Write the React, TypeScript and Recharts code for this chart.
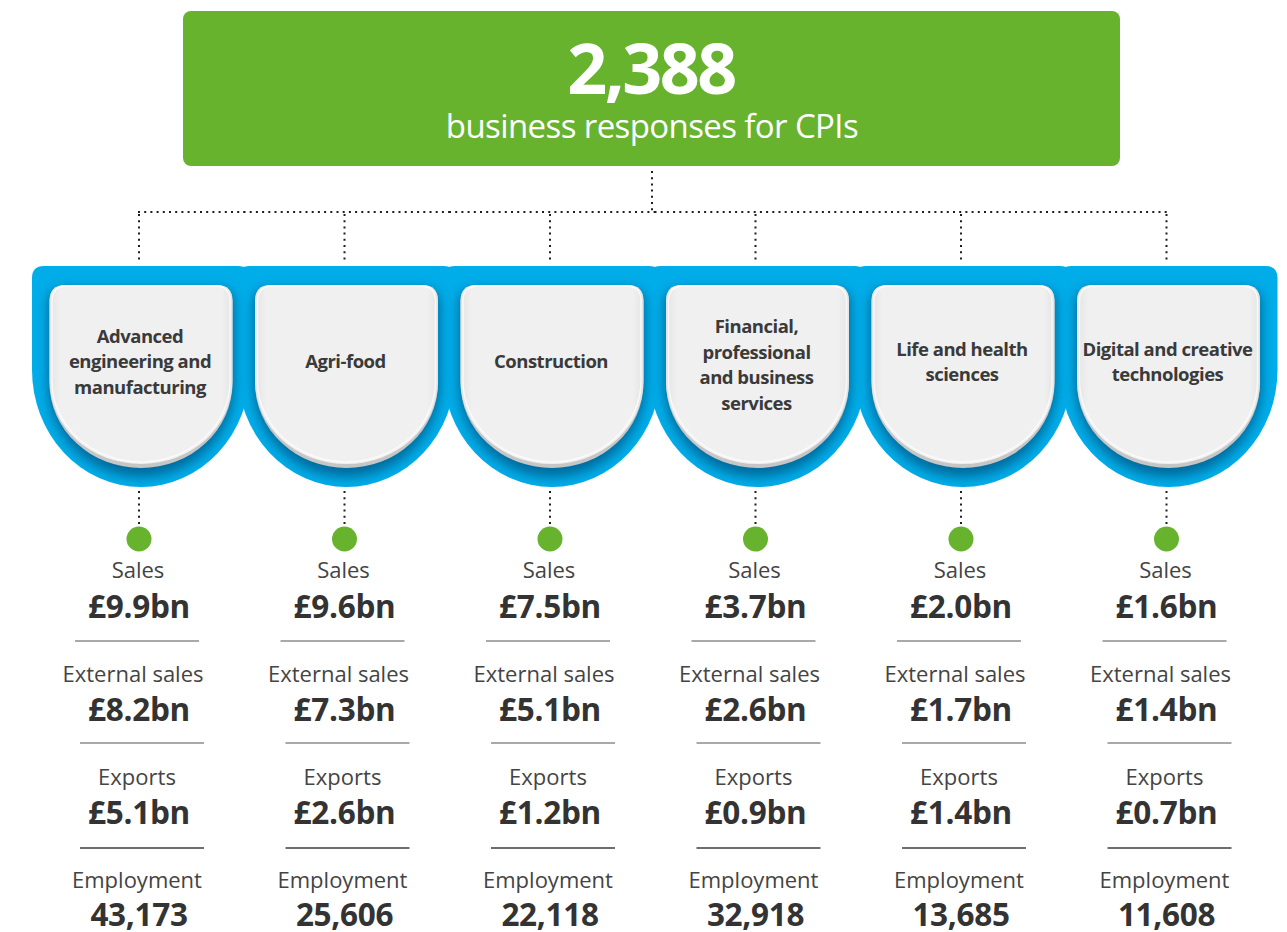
import React from "react";
import { ComposedChart, Bar, XAxis, YAxis } from "recharts";

// ---------- data ----------
const totalResponses = 2388;
const headline = "business responses for CPIs";
const sectors = [
  "Advanced engineering and manufacturing",
  "Agri-food",
  "Construction",
  "Financial, professional and business services",
  "Life and health sciences",
  "Digital and creative technologies",
];
const sectorLines = [
  ["Advanced", "engineering and", "manufacturing"],
  ["Agri-food"],
  ["Construction"],
  ["Financial,", "professional", "and business", "services"],
  ["Life and health", "sciences"],
  ["Digital and creative", "technologies"],
];
const sales = [9.9, 9.6, 7.5, 3.7, 2.0, 1.6];
const externalSales = [8.2, 7.3, 5.1, 2.6, 1.7, 1.4];
const exportsBn = [5.1, 2.6, 1.2, 0.9, 1.4, 0.7];
const employment = [43173, 25606, 22118, 32918, 13685, 11608];
const rowLabels = ["Sales", "External sales", "Exports", "Employment"];

const data = sectors.map((s, i) => ({
  sector: s,
  lines: sectorLines[i],
  sales: sales[i],
  externalSales: externalSales[i],
  exports: exportsBn[i],
  employment: employment[i],
}));

// ---------- styles ----------
const W = 1287;
const H = 932;
const FONT = "'Open Sans', 'Noto Sans', sans-serif";
const GREEN = "#67B32E";
const BLUE = "#00ADE9";
const DOT = "#1e1e1e";
const N = sectors.length;

const bn = (v: number) => `£${v.toFixed(1)}bn`;

function roundedU(cx: number, hw: number, top: number, sideEnd: number, bottom: number, r: number) {
  const l = cx - hw;
  const rt = cx + hw;
  return `M ${l} ${top + r} Q ${l} ${top} ${l + r} ${top} L ${rt - r} ${top} Q ${rt} ${top} ${rt} ${top + r} L ${rt} ${sideEnd} A ${hw} ${bottom - sideEnd} 0 0 1 ${l} ${sideEnd} Z`;
}

const BackingShape = (props: any) => {
  const { x, width, index } = props;
  const cx = x + width / 2;
  const x0 = index === 0 ? cx - 3 : x;
  const x1 = index === N - 1 ? cx + 2 : x + width;
  return (
    <g>
      <line x1={x0} y1={212} x2={x1} y2={212} stroke={DOT} strokeWidth={2} strokeDasharray="2 4.2" />
      <line x1={cx - 2} y1={214} x2={cx - 2} y2={262} stroke={DOT} strokeWidth={2} strokeDasharray="2 4.2" />
      <path d={roundedU(cx, 109, 266, 370, 487, 12)} fill={BLUE} />
    </g>
  );
};

const CardShape = (props: any) => {
  const { x, width, index, payload } = props;
  const cx = x + width / 2;
  const lines: string[] = payload.lines;
  const lh = 25.5;
  const mid = lines.length === 4 ? 365 : 362;
  const first = mid - ((lines.length - 1) * lh) / 2;
  return (
    <g>
      {index === 0 && (
        <defs>
          <filter id="cardShadow" x="-30%" y="-30%" width="160%" height="160%">
            <feGaussianBlur stdDeviation="6" />
          </filter>
          <linearGradient id="cardFace" x1="0" y1="0" x2="1" y2="0">
            <stop offset="0" stopColor="#e4e4e4" />
            <stop offset="0.06" stopColor="#f0f0f0" />
            <stop offset="0.94" stopColor="#f0f0f0" />
            <stop offset="1" stopColor="#e4e4e4" />
          </linearGradient>
        </defs>
      )}
      <path d={roundedU(cx, 93, 289, 385, 477, 16)} fill="#005a88" opacity={0.8} filter="url(#cardShadow)" />
      <path d={roundedU(cx, 91.5, 285, 383, 468, 16)} fill="#c6c6c6" />
      <path d={roundedU(cx, 91.5, 285, 381, 464, 16)} fill="url(#cardFace)" />
      <path d={roundedU(cx, 89, 286, 381, 462, 15)} fill="none" stroke="#ffffff" strokeOpacity={0.7} strokeWidth={1.5} />
      {lines.map((t, k) => (
        <text
          key={k}
          x={cx - 1}
          y={first + k * lh}
          dy="0.35em"
          textAnchor="middle"
          fontFamily={FONT}
          fontWeight={700}
          fontSize={18.5}
          letterSpacing={-0.5}
          fill="#3a3a3a"
        >
          {t}
        </text>
      ))}
    </g>
  );
};

const labelBase = [578, 682, 785, 888];
const valueBase = [618, 721, 824, 926];
const labelShift = [0, -5, -1, -1];
const sepY = [641, 743, 848];
const sepCol = ["#8c8c8c", "#8c8c8c", "#3c3c3c"];

function statRow(cx: number, row: number, value: string) {
  return (
    <g>
      <text x={cx + labelShift[row]} y={labelBase[row]} textAnchor="middle" fontFamily={FONT} fontSize={22} fill="#444444">
        {rowLabels[row]}
      </text>
      <text x={cx + 1} y={valueBase[row]} textAnchor="middle" fontFamily={FONT} fontWeight={700} fontSize={31.5} letterSpacing={-0.3} fill="#333333">
        {value}
      </text>
      {row < 3 && (
        <line x1={cx - 62 + (row === 0 ? -1 : 4)} y1={sepY[row]} x2={cx + 62 + (row === 0 ? -1 : 4)} y2={sepY[row]} stroke={sepCol[row]} strokeWidth={1.6} />
      )}
    </g>
  );
}

const SalesRow = (props: any) => {
  const { x, width, payload } = props;
  const cx = x + width / 2 - 3;
  return (
    <g>
      <line x1={cx + 1} y1={491} x2={cx + 1} y2={527} stroke={DOT} strokeWidth={2} strokeDasharray="2 4.2" />
      <circle cx={cx + 1} cy={539} r={12.5} fill={GREEN} />
      {statRow(cx, 0, bn(payload.sales))}
    </g>
  );
};
const ExternalRow = (props: any) => {
  const { x, width, payload } = props;
  return statRow(x + width / 2 - 3, 1, bn(payload.externalSales));
};
const ExportsRow = (props: any) => {
  const { x, width, payload } = props;
  return statRow(x + width / 2 - 3, 2, bn(payload.exports));
};
const EmploymentRow = (props: any) => {
  const { x, width, payload } = props;
  return statRow(x + width / 2 - 3, 3, payload.employment.toLocaleString("en-GB"));
};

export default function App() {
  return (
    <div style={{ position: "absolute", left: 0, top: 0, width: W, height: H, background: "#fff" }}>
      <ComposedChart width={W} height={H} data={data} margin={{ top: 0, right: 16, bottom: 0, left: 38 }} barCategoryGap={0}>
        <XAxis dataKey="sector" hide />
        <YAxis hide />
        <rect x={183} y={11} width={937} height={155} rx={8} fill={GREEN} />
        <text x={651} y={94} textAnchor="middle" fontFamily={FONT} fontWeight={700} fontSize={70} letterSpacing={-2.5} fill="#ffffff">
          {totalResponses.toLocaleString("en-GB")}
        </text>
        <text x={652} y={138} textAnchor="middle" fontFamily={FONT} fontSize={33} letterSpacing={-0.6} fill="#ffffff">
          {headline}
        </text>
        <line x1={652} y1={171} x2={652} y2={212} stroke={DOT} strokeWidth={2} strokeDasharray="2 4.2" />
        <Bar dataKey="sales" stackId="s" isAnimationActive={false} shape={BackingShape} />
        <Bar dataKey="externalSales" stackId="s" isAnimationActive={false} shape={CardShape} />
        <Bar dataKey="exports" stackId="s" isAnimationActive={false} shape={SalesRow} />
        <Bar dataKey="employment" stackId="s" isAnimationActive={false} shape={ExternalRow} />
        <Bar dataKey="sales" stackId="s" isAnimationActive={false} shape={ExportsRow} />
        <Bar dataKey="employment" stackId="s" isAnimationActive={false} shape={EmploymentRow} />
      </ComposedChart>
    </div>
  );
}
